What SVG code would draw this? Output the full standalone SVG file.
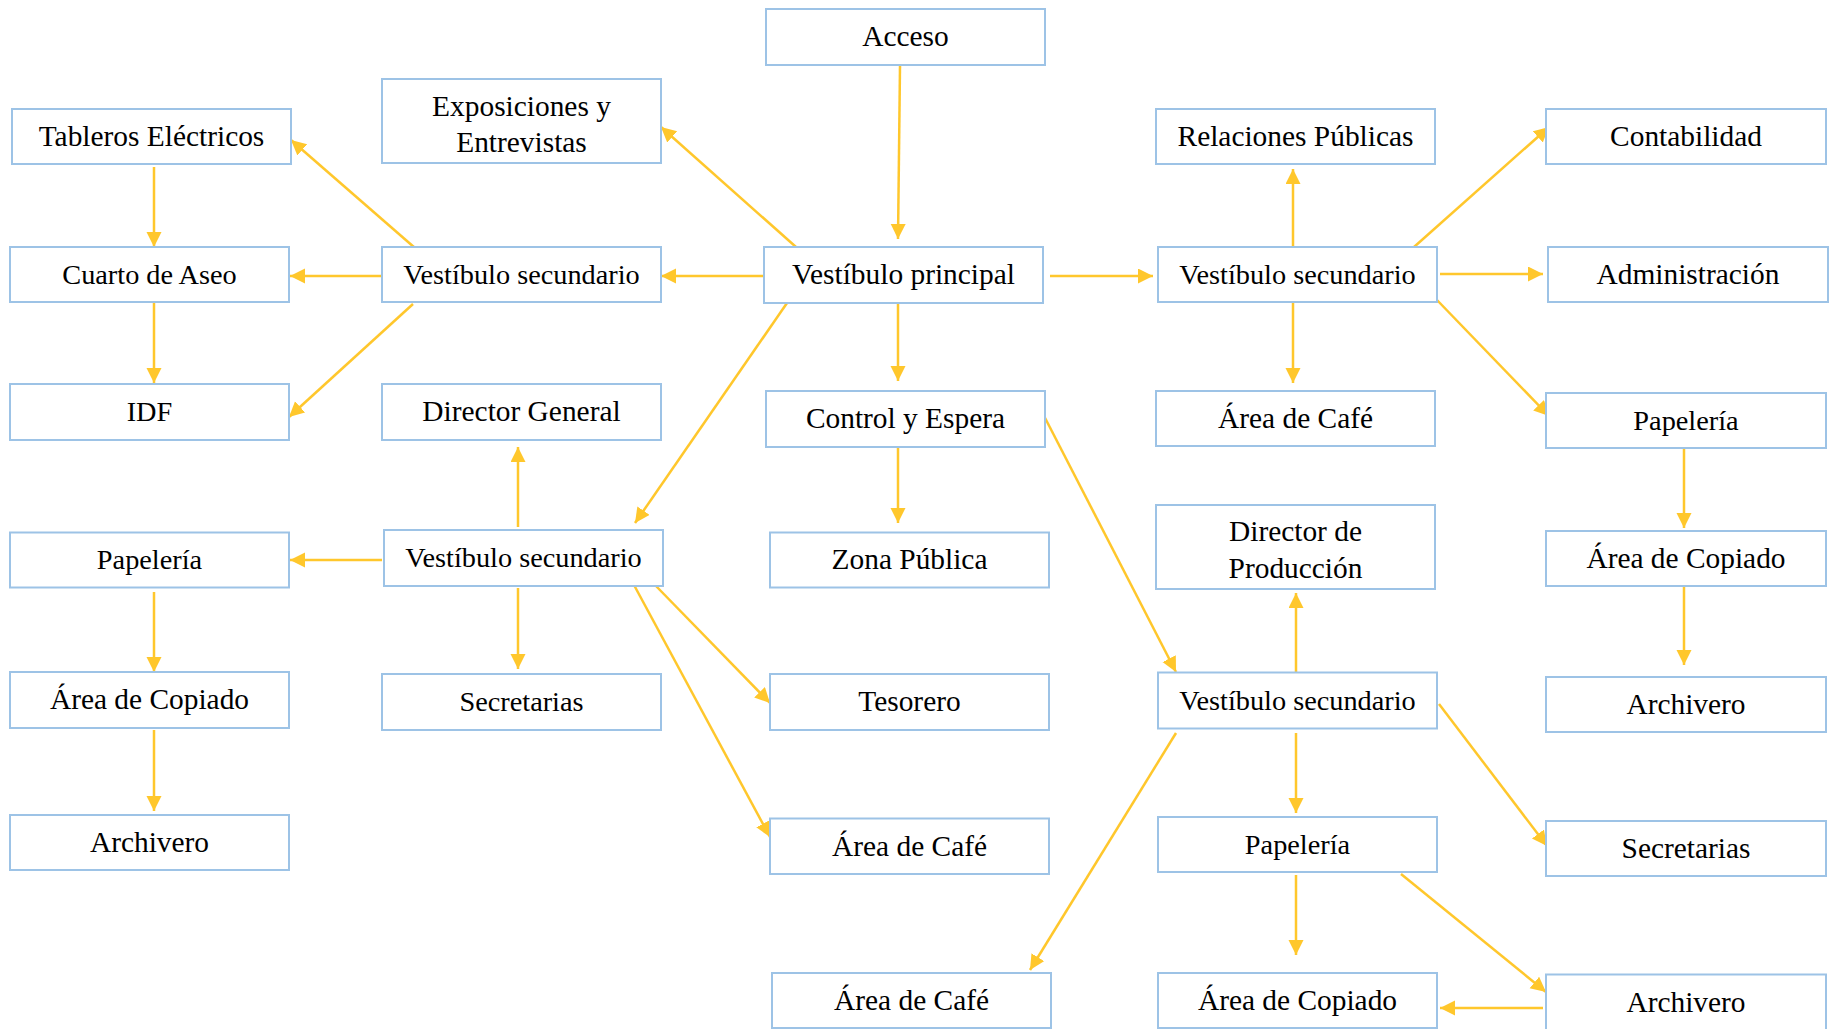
<svg xmlns="http://www.w3.org/2000/svg" width="1835" height="1029" viewBox="0 0 1835 1029">
<style>
.box rect{fill:#fff;stroke:#9DC3E6;stroke-width:2}
.box text{font-family:"Liberation Serif","Times New Roman",serif;font-size:29.4px;fill:#000;text-anchor:middle}
.box text.s{font-size:28.3px}
.conn line{stroke:#FFC72C;stroke-width:2.5;fill:none}
</style>
<defs>
<marker id="ah" markerUnits="userSpaceOnUse" markerWidth="16" markerHeight="16" refX="15" refY="7.5" orient="auto">
<path d="M0,0 L15,7.5 L0,15 z" fill="#FFC72C"/>
</marker>
</defs>
<rect width="1835" height="1029" fill="#fff"/>
<g class="conn">
<line x1="900" y1="66" x2="898" y2="239" marker-end="url(#ah)"/>
<line x1="898" y1="303" x2="898" y2="381" marker-end="url(#ah)"/>
<line x1="1050" y1="276" x2="1153" y2="276" marker-end="url(#ah)"/>
<line x1="1293" y1="249" x2="1293" y2="169" marker-end="url(#ah)"/>
<line x1="1293" y1="302" x2="1293" y2="383" marker-end="url(#ah)"/>
<line x1="796" y1="247" x2="661" y2="127" marker-end="url(#ah)"/>
<line x1="764" y1="276" x2="661" y2="276" marker-end="url(#ah)"/>
<line x1="787" y1="303" x2="635" y2="523" marker-end="url(#ah)"/>
<line x1="154" y1="167" x2="154" y2="247" marker-end="url(#ah)"/>
<line x1="154" y1="302" x2="154" y2="383" marker-end="url(#ah)"/>
<line x1="415" y1="248" x2="291" y2="140" marker-end="url(#ah)"/>
<line x1="382" y1="276" x2="290" y2="276" marker-end="url(#ah)"/>
<line x1="413" y1="304" x2="289" y2="417" marker-end="url(#ah)"/>
<line x1="1414" y1="247" x2="1549" y2="127" marker-end="url(#ah)"/>
<line x1="1440" y1="274" x2="1543" y2="274" marker-end="url(#ah)"/>
<line x1="1436" y1="299" x2="1549" y2="416" marker-end="url(#ah)"/>
<line x1="518" y1="527" x2="518" y2="447" marker-end="url(#ah)"/>
<line x1="382" y1="560" x2="290" y2="560" marker-end="url(#ah)"/>
<line x1="518" y1="588" x2="518" y2="669" marker-end="url(#ah)"/>
<line x1="154" y1="592" x2="154" y2="672" marker-end="url(#ah)"/>
<line x1="154" y1="730" x2="154" y2="811" marker-end="url(#ah)"/>
<line x1="656" y1="586" x2="770" y2="703" marker-end="url(#ah)"/>
<line x1="634" y1="585" x2="770" y2="837" marker-end="url(#ah)"/>
<line x1="898" y1="443" x2="898" y2="523" marker-end="url(#ah)"/>
<line x1="1042" y1="412" x2="1176" y2="672" marker-end="url(#ah)"/>
<line x1="1296" y1="673" x2="1296" y2="593" marker-end="url(#ah)"/>
<line x1="1296" y1="733" x2="1296" y2="813" marker-end="url(#ah)"/>
<line x1="1296" y1="875" x2="1296" y2="955" marker-end="url(#ah)"/>
<line x1="1176" y1="733" x2="1030" y2="970" marker-end="url(#ah)"/>
<line x1="1439" y1="704" x2="1547" y2="846" marker-end="url(#ah)"/>
<line x1="1401" y1="874" x2="1546" y2="992" marker-end="url(#ah)"/>
<line x1="1543" y1="1008" x2="1440" y2="1008" marker-end="url(#ah)"/>
<line x1="1684" y1="448" x2="1684" y2="528" marker-end="url(#ah)"/>
<line x1="1684" y1="586" x2="1684" y2="665" marker-end="url(#ah)"/>
</g>
<g id="acceso" class="box"><rect x="766" y="9" width="279" height="56"/><text x="905.5" y="46">Acceso</text></g>
<g id="exposiciones" class="box"><rect x="382" y="79" width="279" height="84"/><text x="521.5" y="115.5">Exposiciones y</text><text x="521.5" y="151.5">Entrevistas</text></g>
<g id="tableros" class="box"><rect x="12" y="109" width="279" height="55"/><text x="151.5" y="145.5">Tableros Eléctricos</text></g>
<g id="relaciones" class="box"><rect x="1156" y="109" width="279" height="55"/><text x="1295.5" y="145.5">Relaciones Públicas</text></g>
<g id="contabilidad" class="box"><rect x="1546" y="109" width="280" height="55"/><text x="1686" y="145.5">Contabilidad</text></g>
<g id="cuarto-aseo" class="box"><rect x="10" y="247" width="279" height="55"/><text class="s" x="149.5" y="283.5">Cuarto de Aseo</text></g>
<g id="vestibulo-izq" class="box"><rect x="382" y="247" width="279" height="55"/><text class="s" x="521.5" y="283.5">Vestíbulo secundario</text></g>
<g id="vestibulo-principal" class="box"><rect x="764" y="247" width="279" height="56"/><text x="903.5" y="284">Vestíbulo principal</text></g>
<g id="vestibulo-der" class="box"><rect x="1158" y="247" width="279" height="55"/><text class="s" x="1297.5" y="283.5">Vestíbulo secundario</text></g>
<g id="administracion" class="box"><rect x="1548" y="247" width="280" height="55"/><text x="1688" y="283.5">Administración</text></g>
<g id="idf" class="box"><rect x="10" y="384" width="279" height="56"/><text class="s" x="149.5" y="421">IDF</text></g>
<g id="director-general" class="box"><rect x="382" y="384" width="279" height="56"/><text x="521.5" y="421">Director General</text></g>
<g id="control-espera" class="box"><rect x="766" y="391" width="279" height="56"/><text x="905.5" y="428">Control y Espera</text></g>
<g id="cafe-1" class="box"><rect x="1156" y="391" width="279" height="55"/><text x="1295.5" y="427.5">Área de Café</text></g>
<g id="papeleria-5" class="box"><rect x="1546" y="393" width="280" height="55"/><text class="s" x="1686" y="429.5">Papelería</text></g>
<g id="director-produccion" class="box"><rect x="1156" y="505" width="279" height="84"/><text x="1295.5" y="540.5">Director de</text><text x="1295.5" y="577.5">Producción</text></g>
<g id="vestibulo-2" class="box"><rect x="384" y="530" width="279" height="56"/><text class="s" x="523.5" y="567">Vestíbulo secundario</text></g>
<g id="papeleria-1" class="box"><rect x="10" y="532.5" width="279" height="55"/><text class="s" x="149.5" y="569">Papelería</text></g>
<g id="zona-publica" class="box"><rect x="770" y="532.5" width="279" height="55"/><text x="909.5" y="569">Zona Pública</text></g>
<g id="copiado-5" class="box"><rect x="1546" y="531" width="280" height="55"/><text x="1686" y="567.5">Área de Copiado</text></g>
<g id="copiado-1" class="box"><rect x="10" y="672" width="279" height="56"/><text x="149.5" y="709">Área de Copiado</text></g>
<g id="secretarias-2" class="box"><rect x="382" y="674" width="279" height="56"/><text class="s" x="521.5" y="711">Secretarias</text></g>
<g id="tesorero" class="box"><rect x="770" y="674" width="279" height="56"/><text x="909.5" y="711">Tesorero</text></g>
<g id="vestibulo-4" class="box"><rect x="1158" y="672.5" width="279" height="56"/><text class="s" x="1297.5" y="709.5">Vestíbulo secundario</text></g>
<g id="archivero-5a" class="box"><rect x="1546" y="677" width="280" height="55"/><text x="1686" y="713.5">Archivero</text></g>
<g id="archivero-1" class="box"><rect x="10" y="815" width="279" height="55"/><text x="149.5" y="851.5">Archivero</text></g>
<g id="cafe-3" class="box"><rect x="770" y="818.5" width="279" height="55.5"/><text x="909.5" y="855.5">Área de Café</text></g>
<g id="papeleria-4" class="box"><rect x="1158" y="817" width="279" height="55"/><text class="s" x="1297.5" y="853.5">Papelería</text></g>
<g id="secretarias-5" class="box"><rect x="1546" y="821" width="280" height="55"/><text x="1686" y="857.5">Secretarias</text></g>
<g id="cafe-4" class="box"><rect x="772" y="973" width="279" height="55"/><text x="911.5" y="1009.5">Área de Café</text></g>
<g id="copiado-4" class="box"><rect x="1158" y="973" width="279" height="55"/><text x="1297.5" y="1009.5">Área de Copiado</text></g>
<g id="archivero-5b" class="box"><rect x="1546" y="974.5" width="280" height="56"/><text x="1686" y="1011.5">Archivero</text></g>
</svg>
